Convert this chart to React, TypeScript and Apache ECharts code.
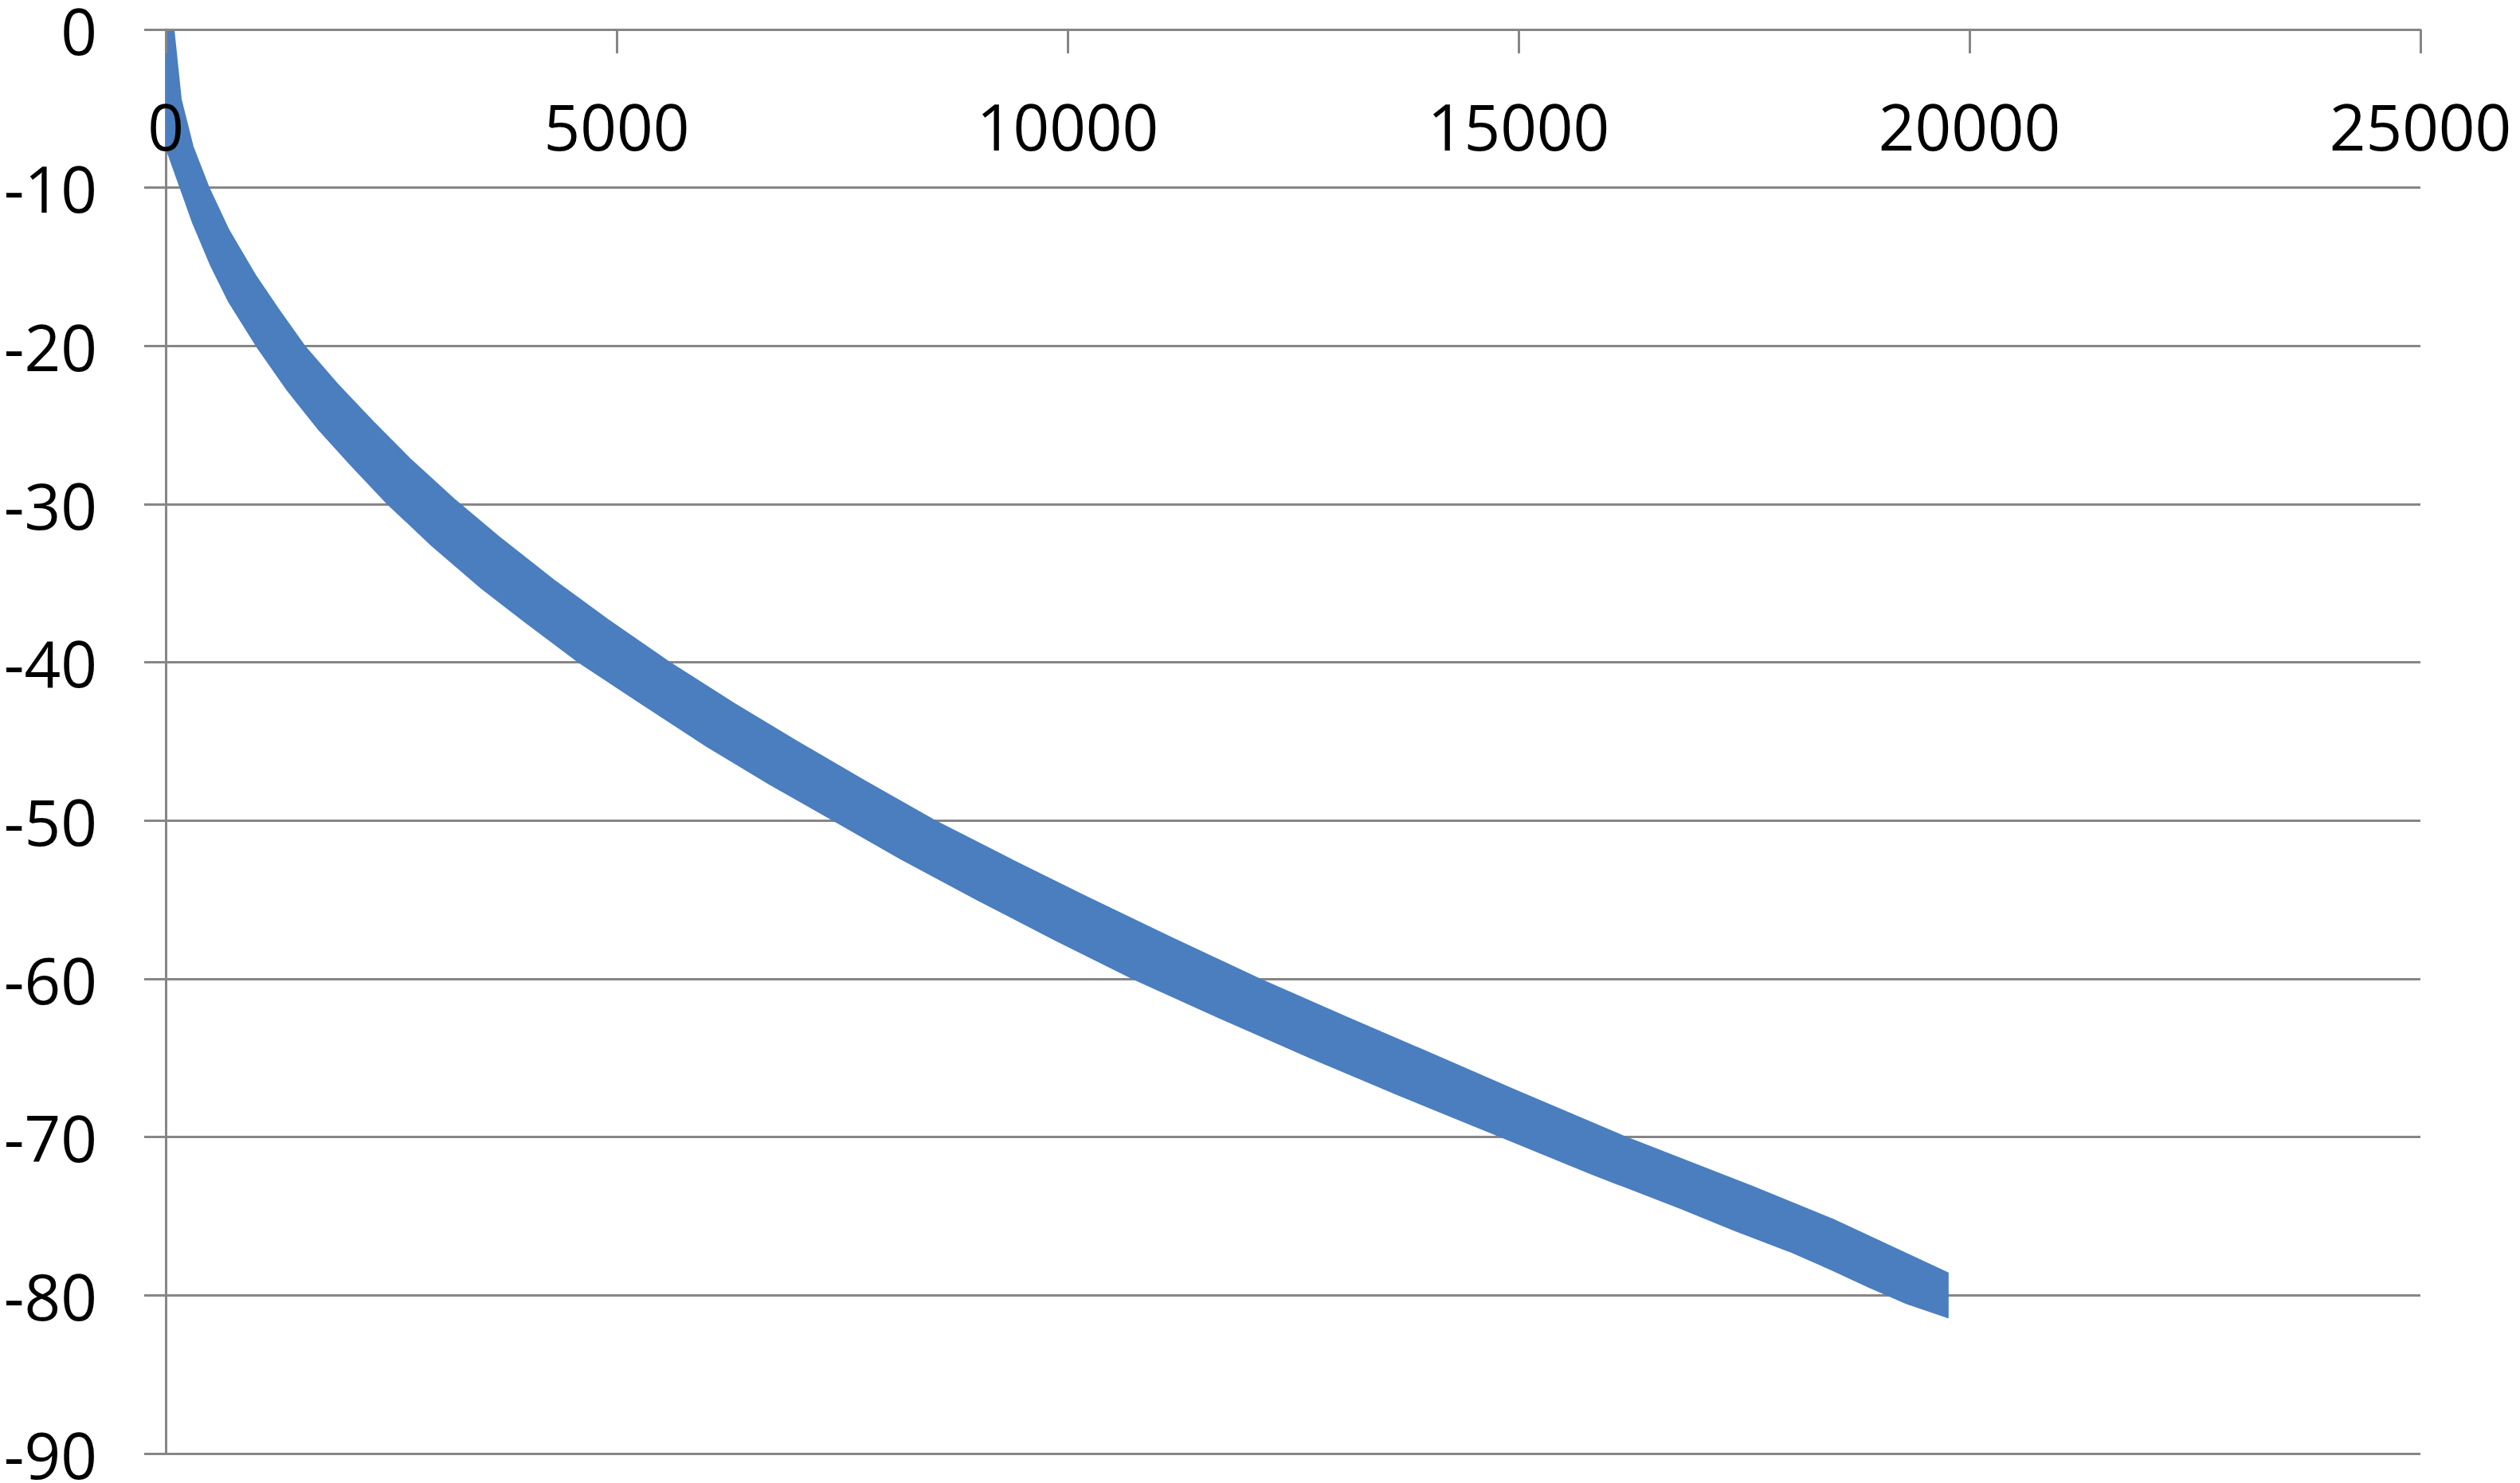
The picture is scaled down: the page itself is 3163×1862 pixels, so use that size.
import React, { useEffect, useRef } from "react";
import * as echarts from "echarts";

// Upper edge of the plotted band (x, y)
const upperX = [0, 88, 168, 300, 477, 700, 1000, 1250, 1537, 1900, 2300, 2700, 3198, 3700, 4300, 4900, 5583, 6300, 7000, 7750, 8525, 9350, 10200, 11150, 12120, 13100, 14100, 14947, 16184, 17600, 18481, 19760];
const upperY = [0, 0, -4.4, -7.4, -10, -12.7, -15.6, -17.7, -20, -22.4, -24.8, -27.1, -29.7, -32.1, -34.8, -37.3, -40, -42.6, -45, -47.5, -50, -52.4, -54.8, -57.4, -60, -62.45, -64.9, -67.0, -70, -73.15, -75.2, -78.6];

// Lower edge of the plotted band (x, y)
const lowerX = [0, 100, 194, 300, 500, 700, 1007, 1350, 1700, 2050, 2465, 2950, 3500, 4000, 4585, 5250, 6000, 6700, 7412, 8150, 9000, 9850, 10733, 11700, 12700, 13700, 14814, 15800, 16800, 17400, 18000, 18481, 18895, 19300, 19760];
const lowerY = [-7.4, -9.0, -10.5, -12.2, -14.9, -17.2, -20, -22.8, -25.3, -27.5, -30, -32.6, -35.3, -37.5, -40, -42.5, -45.3, -47.7, -50, -52.4, -55, -57.5, -60, -62.5, -65, -67.4, -70, -72.3, -74.5, -75.9, -77.2, -78.4, -79.5, -80.5, -81.4];

const xMin = 0;
const xMax = 25000;
const xStep = 5000;
const yMin = -90;
const yMax = 0;
const yStep = 10;

export default function App() {
  const ref = useRef<HTMLDivElement>(null);
  useEffect(() => {
    if (!ref.current) return;
    const chart = echarts.init(ref.current, null, { renderer: "svg" });
    const gray = "#868686";
    const font = "'Open Sans', 'Liberation Sans', sans-serif";
    chart.setOption({
      animation: false,
      backgroundColor: "#ffffff",
      grid: {
        left: 208,
        right: 125,
        top: 37,
        bottom: 37,
        containLabel: false,
        outerBoundsMode: "none",
      },
      xAxis: {
        type: "value",
        position: "top",
        min: xMin,
        max: xMax,
        interval: xStep,
        z: 10,
        axisLine: { show: true, onZero: false, lineStyle: { color: gray, width: 3 } },
        axisTick: { show: true, inside: true, length: 30, lineStyle: { color: gray, width: 3 } },
        axisLabel: {
          inside: true,
          color: "#000",
          fontSize: 80,
          lineHeight: 64,
          fontFamily: font,
          margin: 88,
          formatter: (v: number) => String(v),
        },
        splitLine: { show: false },
      },
      yAxis: {
        type: "value",
        min: yMin,
        max: yMax,
        interval: yStep,
        axisLine: { show: true, onZero: false, lineStyle: { color: gray, width: 3 } },
        axisTick: { show: true, length: 27, lineStyle: { color: gray, width: 3 } },
        axisLabel: {
          color: "#000",
          fontSize: 80,
          lineHeight: 64,
          fontFamily: font,
          margin: 86,
          formatter: (v: number) => String(v),
        },
        splitLine: { show: true, lineStyle: { color: gray, width: 3 } },
      },
      series: [
        {
          type: "custom",
          name: "band",
          clip: true,
          data: [[upperX[0], upperY[0]]],
          renderItem: (_params: any, api: any) => {
            const pts: number[][] = [];
            for (let i = 0; i < upperX.length; i++) pts.push(api.coord([upperX[i], upperY[i]]));
            for (let i = lowerX.length - 1; i >= 0; i--) pts.push(api.coord([lowerX[i], lowerY[i]]));
            return {
              type: "polygon",
              shape: { points: pts },
              style: { fill: "#4a7ebf", stroke: "#4a7ebf", lineWidth: 2, lineJoin: "round" },
            };
          },
        },
      ],
    });
    return () => chart.dispose();
  }, []);
  return (
    <div
      ref={ref}
      style={{ position: "absolute", left: 0, top: 0, width: 3163, height: 1862 }}
    />
  );
}
